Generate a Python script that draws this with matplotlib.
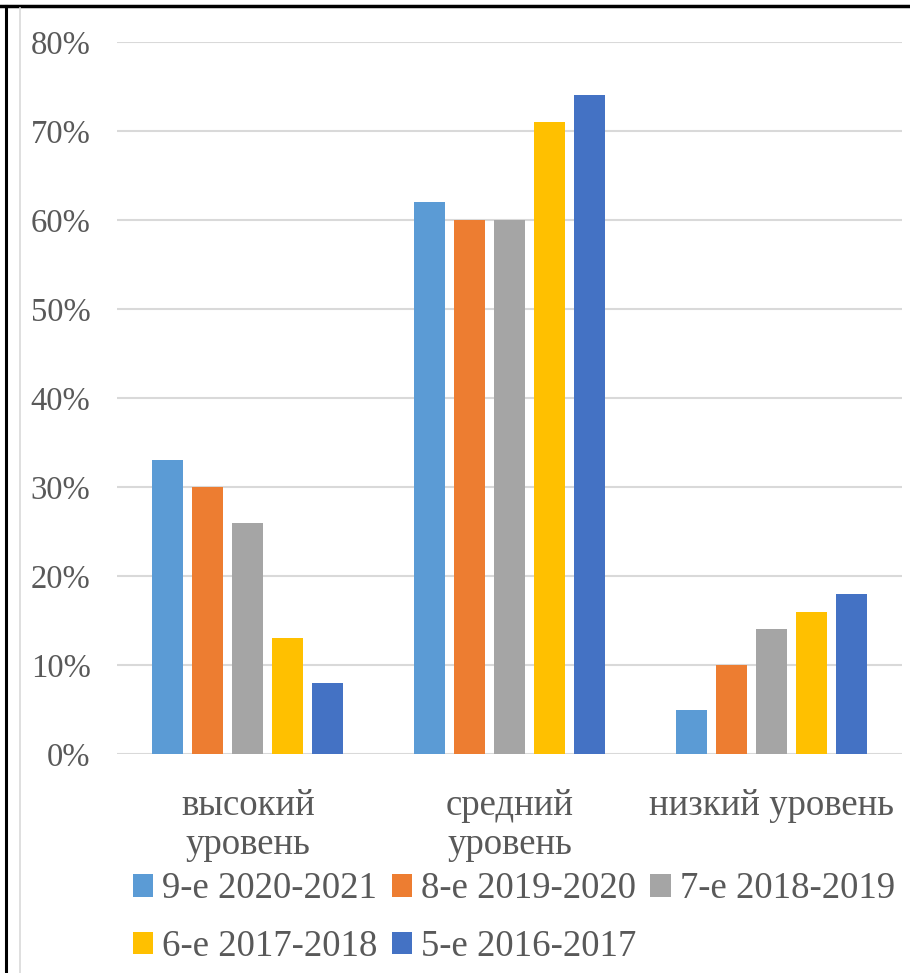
import numpy as np
import matplotlib.pyplot as plt
from matplotlib.lines import Line2D

# levels of achievement and the share of pupils per school year
categories = ['высокий\nуровень', 'средний\nуровень', 'низкий уровень']
series_names = ['9-е 2020-2021', '8-е 2019-2020', '7-е 2018-2019',
                '6-е 2017-2018', '5-е 2016-2017']
values_9 = [33, 62, 5]
values_8 = [30, 60, 10]
values_7 = [26, 60, 14]
values_6 = [13, 71, 16]
values_5 = [8, 74, 18]
y_ticks = [0, 10, 20, 30, 40, 50, 60, 70, 80]

colors = ['#5B9BD5', '#ED7D31', '#A5A5A5', '#FFC000', '#4472C4']
text_color = '#595959'
grid_color = '#D9D9D9'

plt.rcParams['font.family'] = ['Liberation Serif', 'DejaVu Serif']

fig = plt.figure(figsize=(9.10, 9.73), dpi=100)
ax = fig.add_axes([117 / 910, 1 - 754 / 973, (902 - 117) / 910, (754 - 42) / 973])

series = [values_9, values_8, values_7, values_6, values_5]
x = np.arange(len(categories))
step = 0.153
width = 0.119
bars = []
for i, (vals, col) in enumerate(zip(series, colors)):
    b = ax.bar(x + (i - 2) * step, vals, width=width, color=col,
               label=series_names[i], zorder=3)
    bars.append(b)

ax.set_xlim(-0.5, 2.5)
ax.set_ylim(0, 80)
ax.set_yticks(y_ticks)
ax.set_yticklabels([f'{t}%' for t in y_ticks], fontsize=23.5, color=text_color)
ax.set_xticks(x)
ax.set_xticklabels(categories, fontsize=26.5, color=text_color, linespacing=1.18)
ax.tick_params(axis='both', length=0)
ax.tick_params(axis='y', pad=19)
ax.tick_params(axis='x', pad=25)
ax.grid(axis='y', color=grid_color, linewidth=1.5, zorder=0)
for s in ax.spines.values():
    s.set_visible(False)

# legend filled row by row: 3 items on top, 2 below
order = [0, 3, 1, 4, 2]
leg = fig.legend([bars[i] for i in order], [series_names[i] for i in order],
                 ncol=3, loc='upper left', bbox_to_anchor=(133 / 910, 1 - 872 / 973),
                 frameon=False, fontsize=26.5, handlelength=0.55, handleheight=0.55,
                 handletextpad=0.25, columnspacing=0.38, labelspacing=0.62,
                 borderpad=0, borderaxespad=0)
for t in leg.get_texts():
    t.set_color(text_color)

# page frame lines around the chart
fig.add_artist(Line2D([0, 1], [1 - 6 / 973, 1 - 6 / 973], color='black', linewidth=2.5))
fig.add_artist(Line2D([5.5 / 910, 5.5 / 910], [0, 1 - 6 / 973], color='black', linewidth=2.2))
fig.add_artist(Line2D([20 / 910, 20 / 910], [0, 1 - 8 / 973], color=grid_color, linewidth=1.2))

fig.savefig('out.png', dpi=100)
